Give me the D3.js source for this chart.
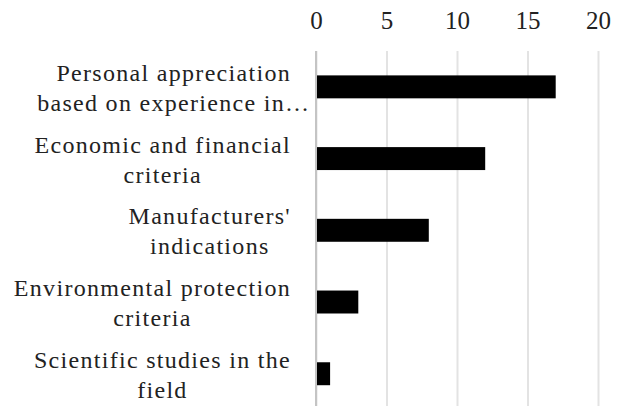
<!DOCTYPE html>
<html>
<head>
<meta charset="utf-8">
<script src="https://cdn.jsdelivr.net/npm/d3@7"></script>
<style>
  body { margin: 0; background: #fff; }
</style>
</head>
<body>
<div id="container"></div>
<script>
// chart data
let categories = [
  ["Personal appreciation", "based on experience in\u2026"],
  ["Economic and financial", "criteria"],
  ["Manufacturers'", "indications"],
  ["Environmental protection", "criteria"],
  ["Scientific studies in the", "field"]
];
let values = [17, 12, 8, 3, 1];
let tickValues = [0, 5, 10, 15, 20];

let w = 625;
let h = 406;
let plotLeft = 316;
let plotRight = 598;
let plotTop = 51;
let plotBottom = 409.6;
let serif = "Liberation Serif";

let viz = d3.select("#container")
  .append("svg")
  .attr("width", w)
  .attr("height", h);

let xScale = d3.scaleLinear().domain([0, 20]).range([plotLeft, plotRight]);
let yScale = d3.scaleBand()
  .domain(d3.range(values.length))
  .range([plotTop, plotBottom])
  .paddingInner(0.68)
  .paddingOuter(0.34);

// gridlines + tick labels on top
let xAxis = d3.axisTop(xScale)
  .tickValues(tickValues)
  .tickSize(-(plotBottom - plotTop))
  .tickPadding(22);
let xAxisGroup = viz.append("g")
  .attr("transform", "translate(0," + plotTop + ")")
  .call(xAxis)
  .attr("font-family", serif)
  .attr("font-size", 25);
xAxisGroup.select(".domain").remove();
xAxisGroup.selectAll(".tick line")
  .attr("stroke", "#e3e3e3")
  .attr("stroke-width", 2);
xAxisGroup.selectAll(".tick text")
  .attr("fill", "#222");

// vertical category axis line
viz.append("line")
  .attr("x1", xScale(0)).attr("x2", xScale(0))
  .attr("y1", plotTop).attr("y2", h)
  .attr("stroke", "#c4c4c4")
  .attr("stroke-width", 2);

// bars
viz.selectAll(".bar")
  .data(values)
  .enter()
  .append("rect")
  .attr("class", "bar")
  .attr("x", xScale(0) + 1)
  .attr("y", function(d, i) { return yScale(i); })
  .attr("width", function(d) { return xScale(d) - xScale(0) - 1; })
  .attr("height", yScale.bandwidth())
  .attr("fill", "#000");

// category labels: lines centred in a block that is right-aligned
let labelRight = 291;
let labelGroups = viz.selectAll(".label")
  .data(categories)
  .enter()
  .append("text")
  .attr("class", "label")
  .attr("font-family", serif)
  .attr("font-size", 24)
  .attr("letter-spacing", 1.3)
  .attr("fill", "#222");

labelGroups.each(function(lines, i) {
  let t = d3.select(this);
  let cy = yScale(i) + yScale.bandwidth() / 2;
  lines.forEach(function(line, k) {
    t.append("tspan")
      .attr("y", cy - 6 + k * 30)
      .text(line);
  });
  let maxW = 0;
  t.selectAll("tspan").each(function() {
    let txt = d3.select(this).text();
    if (txt.indexOf("\u2026") < 0) maxW = Math.max(maxW, this.getComputedTextLength());
  });
  let cx = labelRight - maxW / 2;
  t.selectAll("tspan").attr("x", cx).attr("text-anchor", "middle");
});
</script>
</body>
</html>
